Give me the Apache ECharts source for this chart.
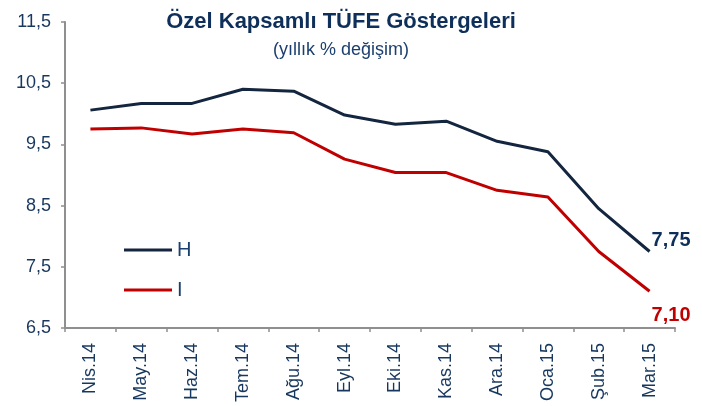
<!DOCTYPE html>
<html>
<head>
<meta charset="utf-8">
<script src="https://cdn.jsdelivr.net/npm/echarts@6/dist/echarts.min.js"></script>
<style>
  html, body { margin: 0; padding: 0; background: #fff; }
  #chart { width: 702px; height: 406px; }
</style>
</head>
<body>
<div id="chart"></div>
<script>
  // aylar
  var months = ['Nis.14', 'May.14', 'Haz.14', 'Tem.14', 'Ağu.14', 'Eyl.14', 'Eki.14', 'Kas.14', 'Ara.14', 'Oca.15', 'Şub.15', 'Mar.15'];
  // yıllık % değişim
  var seriesH = [10.06, 10.17, 10.17, 10.40, 10.37, 9.98, 9.83, 9.88, 9.55, 9.38, 8.45, 7.75];
  var seriesI = [9.75, 9.77, 9.67, 9.75, 9.69, 9.26, 9.04, 9.04, 8.75, 8.64, 7.75, 7.10];
  var yTicks = [6.5, 7.5, 8.5, 9.5, 10.5, 11.5];

  var navy = '#0d2f5a';
  var font = 'Liberation Sans';

  function comma(v, d) {
    return v.toFixed(d).replace('.', ',');
  }

  // son değer etiketi
  function endLabel(color, offsetY) {
    return {
      show: true,
      distance: 2,
      offset: [0, offsetY],
      formatter: function (p) { return comma(p.value, 2); },
      color: color,
      fontFamily: font,
      fontWeight: 'bold',
      fontSize: 20
    };
  }

  var myChart = echarts.init(document.getElementById('chart'));
  myChart.setOption({
    backgroundColor: '#fff',
    animation: false,
    title: {
      text: 'Özel Kapsamlı TÜFE Göstergeleri',
      subtext: '(yıllık % değişim)',
      left: 336,
      textAlign: 'center',
      top: 6,
      itemGap: 8,
      textStyle: {
        fontFamily: font,
        fontSize: 22,
        fontWeight: 'bold',
        color: navy
      },
      subtextStyle: {
        fontFamily: font,
        fontSize: 18,
        color: '#1b3f6e'
      }
    },
    legend: {
      orient: 'vertical',
      left: 119,
      top: 235,
      itemWidth: 48,
      itemHeight: 3,
      itemGap: 20,
      icon: 'rect',
      textStyle: {
        fontFamily: font,
        fontSize: 20,
        lineHeight: 20,
        color: '#1b3f6e'
      },
      data: ['H', 'I']
    },
    grid: {
      left: 65,
      right: 27,
      top: 22,
      bottom: 78,
      containLabel: false
    },
    xAxis: {
      type: 'category',
      data: months,
      boundaryGap: true,
      axisLine: { lineStyle: { color: '#8f8f8f', width: 2 } },
      axisTick: { show: true, length: 4, lineStyle: { color: '#8f8f8f', width: 1.5 } },
      axisLabel: {
        rotate: 90,
        margin: 15,
        fontFamily: font,
        fontSize: 18,
        color: '#17375e'
      }
    },
    yAxis: {
      type: 'value',
      min: 6.5,
      max: 11.5,
      splitLine: { show: false },
      axisLine: { show: true, lineStyle: { color: '#8f8f8f', width: 2 } },
      axisTick: { show: true, length: 4, customValues: yTicks, lineStyle: { color: '#8f8f8f', width: 1.5 } },
      axisLabel: {
        customValues: yTicks,
        margin: 14,
        fontFamily: font,
        fontSize: 18,
        color: '#17375e',
        formatter: function (v) { return comma(v, 1); }
      }
    },
    series: [
      {
        name: 'H',
        type: 'line',
        data: seriesH,
        showSymbol: false,
        color: '#14263f',
        lineStyle: { width: 3, color: '#14263f' },
        endLabel: endLabel(navy, -11)
      },
      {
        name: 'I',
        type: 'line',
        data: seriesI,
        showSymbol: false,
        color: '#c00000',
        lineStyle: { width: 3, color: '#c00000' },
        endLabel: endLabel('#c00000', 24)
      }
    ]
  });
</script>
</body>
</html>
